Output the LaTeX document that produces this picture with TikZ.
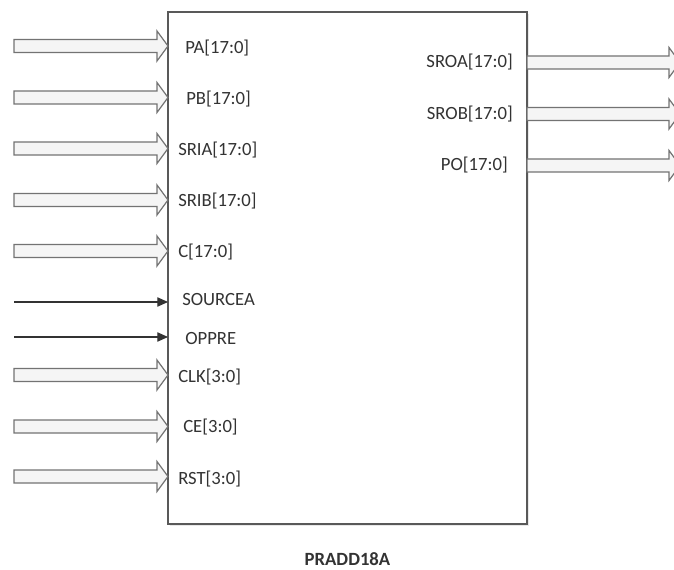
\documentclass[tikz,border=0pt]{standalone}
\usepackage{fontspec}
\setmainfont{Carlito}
\usetikzlibrary{arrows.meta,positioning,calc,shadows}

\begin{document}
\begin{tikzpicture}[x=0.75pt,y=-0.75pt,>=Stealth,
  blk/.style={draw=black!65,fill=white,line width=1pt,minimum width=269.25pt,minimum height=384pt,
    drop shadow={opacity=0.18,shadow xshift=1.2pt,shadow yshift=-1.2pt}},
  lbl/.style={inner sep=0pt,text=black!80},
  bus/.style={draw=black!55,fill=black!4,line width=0.9pt,line join=miter,
    to path={($(\tikztostart)+(0,-6.5)$) -- ($(\tikztotarget)+(-11,-6.5)$) -- ($(\tikztotarget)+(-11,-15)$)
      -- (\tikztotarget) -- ($(\tikztotarget)+(-11,15)$) -- ($(\tikztotarget)+(-11,6.5)$)
      -- ($(\tikztostart)+(0,6.5)$) -- cycle}},
  wire/.style={draw=black!80,line width=0.8pt,-{Triangle[length=8pt,width=7pt]}},
  every node/.style={font=\fontsize{14}{16}\selectfont}]
\useasboundingbox (0,0) rectangle (674,570);
\clip (0,0) rectangle (674,570);
\node[blk] (adder) at (347.5,268) {};
\node[lbl,font=\fontsize{14}{16}\selectfont\bfseries,below=21pt of adder] (title) {PRADD18A};
% inputs
\coordinate (pa) at (168,46);     \coordinate (pa0) at (14,46);
\coordinate (pb) at (168,97.5);   \coordinate (pb0) at (14,97.5);
\coordinate (sria) at (168,148.5);\coordinate (sria0) at (14,148.5);
\coordinate (srib) at (168,200);  \coordinate (srib0) at (14,200);
\coordinate (cin) at (168,251);   \coordinate (cin0) at (14,251);
\coordinate (srca) at (168,302);  \coordinate (srca0) at (14,302);
\coordinate (oppre) at (168,337); \coordinate (oppre0) at (14,337);
\coordinate (clk) at (168,375);   \coordinate (clk0) at (14,375);
\coordinate (ce) at (168,426.5);  \coordinate (ce0) at (14,426.5);
\coordinate (rst) at (168,476.5); \coordinate (rst0) at (14,476.5);
\draw[bus] (pa0) to (pa);
\draw[bus] (pb0) to (pb);
\draw[bus] (sria0) to (sria);
\draw[bus] (srib0) to (srib);
\draw[bus] (cin0) to (cin);
\draw[wire] (srca0) -- (srca);
\draw[wire] (oppre0) -- (oppre);
\draw[bus] (clk0) to (clk);
\draw[bus] (ce0) to (ce);
\draw[bus] (rst0) to (rst);
\node[lbl,right=12.75pt of pa,yshift=-1.5pt] (lpa) {PA[17:0]};
\node[lbl,right=13.5pt of pb,yshift=-1.5pt] (lpb) {PB[17:0]};
\node[lbl,right=7.5pt of sria,yshift=-1.5pt] (lsria) {SRIA[17:0]};
\node[lbl,right=7.5pt of srib,yshift=-1pt] (lsrib) {SRIB[17:0]};
\node[lbl,right=7.5pt of cin,yshift=-1pt] (lcin) {C[17:0]};
\node[lbl,right=10.5pt of srca,yshift=1.5pt] (lsrca) {SOURCEA};
\node[lbl,right=12.75pt of oppre,yshift=-1.5pt] (loppre) {OPPRE};
\node[lbl,right=7.5pt of clk,yshift=-1.5pt] (lclk) {CLK[3:0]};
\node[lbl,right=11.25pt of ce,yshift=-0.5pt] (lce) {CE[3:0]};
\node[lbl,right=7.5pt of rst,yshift=-2pt] (lrst) {RST[3:0]};
% outputs
\coordinate (sroa) at (527,62.5);  \coordinate (sroa1) at (680,62.5);
\coordinate (srob) at (527,114);   \coordinate (srob1) at (680,114);
\coordinate (po) at (527,165.5);   \coordinate (po1) at (680,165.5);
\draw[bus] (sroa) to (sroa1);
\draw[bus] (srob) to (srob1);
\draw[bus] (po) to (po1);
\node[lbl,left=10.5pt of sroa] (lsroa) {SROA[17:0]};
\node[lbl,left=10.5pt of srob] (lsrob) {SROB[17:0]};
\node[lbl,left=14.25pt of po] (lpo) {PO[17:0]};
\end{tikzpicture}
\end{document}
